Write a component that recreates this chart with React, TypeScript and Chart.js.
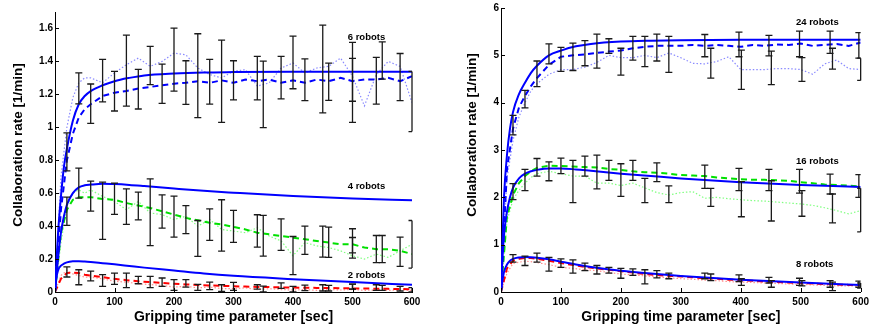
import React, { useEffect, useRef } from "react";
import { Chart, registerables } from "chart.js";
Chart.register(...registerables);

const FONT = "'Liberation Sans', Arial, Helvetica, sans-serif";

// ---------- shared x grids ----------
const X_TICKS = [0, 100, 200, 300, 400, 500, 600];
const MODEL_X = [0, 2, 5, 10, 15, 20, 30, 40, 50, 60, 80, 100, 125, 150, 200, 250, 300, 400, 500, 600];
const SIM_X = [0, 10, 20, 30, 40, 50, 60, 80, 100, 120, 140, 160, 180, 200, 220, 240, 260, 280, 300, 320, 340, 360, 380, 400, 420, 440, 460, 480, 500, 520, 540, 560, 580, 600];

// ---------- left panel (2, 4, 6 robots) ----------
const L_Y_TICKS = [0, 0.2, 0.4, 0.6, 0.8, 1, 1.2, 1.4, 1.6];
const L_MODEL6 = [0, 0.15, 0.35, 0.58, 0.76, 0.87, 1.04, 1.14, 1.19, 1.22, 1.255, 1.28, 1.3, 1.315, 1.327, 1.333, 1.335, 1.337, 1.337, 1.337];
const L_MODEL4 = [0, 0.08, 0.2, 0.36, 0.46, 0.53, 0.6, 0.635, 0.648, 0.652, 0.657, 0.655, 0.65, 0.643, 0.628, 0.614, 0.603, 0.583, 0.568, 0.557];
const L_MODEL2 = [0, 0.08, 0.13, 0.16, 0.172, 0.18, 0.186, 0.187, 0.185, 0.182, 0.175, 0.168, 0.158, 0.148, 0.13, 0.112, 0.098, 0.078, 0.06, 0.044];
const L_SIM6 = [0, 0.5, 0.8, 0.96, 1.06, 1.11, 1.14, 1.19, 1.21, 1.22, 1.235, 1.245, 1.255, 1.265, 1.27, 1.28, 1.27, 1.285, 1.27, 1.29, 1.28, 1.29, 1.27, 1.285, 1.27, 1.29, 1.28, 1.3, 1.28, 1.29, 1.29, 1.3, 1.28, 1.31];
const L_SIM4 = [0, 0.36, 0.5, 0.56, 0.575, 0.575, 0.576, 0.565, 0.56, 0.54, 0.525, 0.51, 0.49, 0.47, 0.45, 0.435, 0.42, 0.41, 0.395, 0.38, 0.36, 0.35, 0.34, 0.33, 0.32, 0.31, 0.3, 0.29, 0.29, 0.27, 0.26, 0.26, 0.25, 0.23];
const L_SIM2 = [0, 0.08, 0.115, 0.118, 0.115, 0.105, 0.1, 0.09, 0.08, 0.072, 0.065, 0.06, 0.055, 0.05, 0.046, 0.042, 0.04, 0.037, 0.035, 0.033, 0.031, 0.03, 0.028, 0.027, 0.026, 0.025, 0.024, 0.023, 0.022, 0.021, 0.02, 0.019, 0.018, 0.017];
const L_DOT6 = [0, 0.7, 1.0, 1.18, 1.27, 1.3, 1.3, 1.27, 1.33, 1.38, 1.42, 1.37, 1.4, 1.45, 1.44, 1.36, 1.32, 1.3, 1.34, 1.35, 1.25, 1.27, 1.36, 1.39, 1.33, 1.36, 1.37, 1.42, 1.31, 1.13, 1.32, 1.4, 1.37, 1.15];
const L_DOT4 = [0, 0.3, 0.52, 0.6, 0.62, 0.6, 0.62, 0.58, 0.55, 0.5, 0.55, 0.48, 0.47, 0.44, 0.46, 0.4, 0.44, 0.38, 0.37, 0.36, 0.39, 0.34, 0.31, 0.22, 0.3, 0.28, 0.27, 0.25, 0.22, 0.2, 0.23, 0.21, 0.25, 0.29];
const L_DOT2 = [0, 0.1, 0.13, 0.11, 0.1, 0.09, 0.09, 0.08, 0.065, 0.06, 0.05, 0.045, 0.04, 0.03, 0.035, 0.025, 0.03, 0.02, 0.02, 0.025, 0.015, 0.02, 0.015, 0.012, 0.015, 0.01, 0.015, 0.012, 0.015, 0.01, 0.012, 0.01, 0.012, 0.01];

const L_ERR_X = [20, 40, 60, 80, 100, 120, 140, 160, 180, 200, 220, 240, 260, 280, 300, 340, 350, 380, 400, 420, 450, 460, 500, 500, 540, 550, 580, 600];
const L_ERR6_HI = [0.966, 1.33, 1.263, 1.412, 1.339, 1.56, 1.352, 1.491, 1.384, 1.602, 1.404, 1.568, 1.412, 1.529, 1.404, 1.43, 1.402, 1.43, 1.554, 1.416, 1.62, 1.39, 1.418, 1.515, 1.424, 1.519, 1.448, 1.339];
const L_ERR6_LO = [0.735, 1.142, 1.024, 1.154, 1.099, 1.129, 1.111, 1.259, 1.145, 1.22, 1.139, 1.059, 1.141, 1.03, 1.166, 1.166, 0.998, 1.172, 1.234, 1.162, 1.087, 1.164, 1.158, 1.03, 1.141, 1.293, 1.162, 0.974];
const L_ERR4_HI = [0.576, 0.752, 0.673, 0.667, 0.661, 0.626, 0.606, 0.687, 0.59, 0.582, 0.525, 0.434, 0.505, 0.56, 0.495, 0.469, 0.465, 0.444, 0.337, 0.4, 0.4, 0.394, 0.331, 0.384, 0.343, 0.343, 0.333, 0.434];
const L_ERR4_LO = [0.404, 0.57, 0.491, 0.319, 0.471, 0.41, 0.438, 0.281, 0.388, 0.333, 0.354, 0.216, 0.313, 0.248, 0.301, 0.273, 0.218, 0.253, 0.105, 0.228, 0.212, 0.21, 0.238, 0.206, 0.178, 0.178, 0.156, 0.145];
const L_ERR2_HI = [0.152, 0.135, 0.127, 0.105, 0.115, 0.115, 0.095, 0.095, 0.085, 0.075, 0.075, 0.046, 0.06, 0.044, 0.059, 0.044, 0.036, 0.055, 0.034, 0.042, 0.044, 0.04, 0.048, 0.048, 0.044, 0.04, 0.034, 0.026];
const L_ERR2_LO = [0.091, 0.044, 0.067, 0.034, 0.046, 0.026, 0.05, 0.026, 0.034, 0.01, 0.03, 0.01, 0.014, 0.004, 0.01, 0.018, 0, 0.022, 0, 0.008, 0.006, 0.006, 0.018, 0.018, 0.01, 0.01, 0.006, 0];

const L_LABELS = ["6 robots", "4 robots", "2 robots"];
const L_LABEL_X = [492, 492, 492];
const L_LABEL_Y = [1.544, 0.642, 0.101];

// ---------- right panel (8, 16, 24 robots) ----------
const R_Y_TICKS = [0, 1, 2, 3, 4, 5, 6];
const R_MODEL24 = [0, 0.9, 2.0, 2.9, 3.45, 3.8, 4.18, 4.42, 4.63, 4.78, 5.0, 5.1, 5.19, 5.24, 5.29, 5.31, 5.32, 5.33, 5.33, 5.33];
const R_MODEL16 = [0, 0.6, 1.2, 1.7, 2.0, 2.2, 2.4, 2.5, 2.55, 2.58, 2.61, 2.61, 2.59, 2.56, 2.5, 2.45, 2.4, 2.32, 2.26, 2.22];
const R_MODEL8 = [0, 0.2, 0.42, 0.58, 0.66, 0.7, 0.73, 0.74, 0.735, 0.725, 0.69, 0.64, 0.58, 0.53, 0.45, 0.39, 0.34, 0.26, 0.2, 0.15];
const R_SIM24 = [0, 2.6, 3.45, 3.9, 4.14, 4.35, 4.52, 4.8, 4.97, 5.0, 5.02, 5.05, 5.08, 5.1, 5.15, 5.18, 5.2, 5.2, 5.2, 5.22, 5.2, 5.22, 5.2, 5.18, 5.22, 5.2, 5.23, 5.22, 5.25, 5.2, 5.22, 5.24, 5.2, 5.27];
const R_SIM16 = [0, 1.6, 2.05, 2.3, 2.45, 2.55, 2.62, 2.67, 2.66, 2.65, 2.64, 2.63, 2.6, 2.58, 2.55, 2.53, 2.52, 2.5, 2.47, 2.46, 2.45, 2.42, 2.4, 2.38, 2.37, 2.37, 2.36, 2.35, 2.32, 2.3, 2.27, 2.26, 2.25, 2.23];
const R_SIM8 = [0, 0.5, 0.66, 0.7, 0.72, 0.72, 0.7, 0.66, 0.61, 0.57, 0.53, 0.5, 0.47, 0.44, 0.41, 0.38, 0.36, 0.34, 0.33, 0.31, 0.29, 0.28, 0.26, 0.25, 0.24, 0.22, 0.21, 0.2, 0.19, 0.18, 0.17, 0.16, 0.15, 0.14];
const R_DOT24 = [0, 2.4, 3.2, 3.7, 4.0, 4.25, 4.4, 4.6, 4.7, 4.7, 4.75, 4.85, 5.0, 4.95, 4.95, 5.0, 4.95, 5.05, 4.95, 4.83, 4.82, 4.87, 4.97, 4.7, 4.7, 4.7, 4.72, 4.72, 4.7, 4.6, 4.82, 4.9, 4.72, 4.7];
const R_DOT16 = [0, 1.5, 1.95, 2.15, 2.3, 2.42, 2.5, 2.55, 2.5, 2.45, 2.45, 2.3, 2.3, 2.25, 2.3, 2.2, 2.1, 2.05, 2.1, 2.12, 1.98, 2.0, 1.97, 1.95, 1.93, 1.92, 1.9, 1.88, 1.86, 1.83, 1.78, 1.72, 1.65, 1.72];
const R_DOT8 = [0, 0.4, 0.6, 0.63, 0.65, 0.64, 0.62, 0.58, 0.52, 0.5, 0.47, 0.45, 0.41, 0.38, 0.36, 0.34, 0.32, 0.3, 0.28, 0.27, 0.25, 0.24, 0.22, 0.21, 0.2, 0.19, 0.18, 0.17, 0.16, 0.15, 0.14, 0.13, 0.13, 0.12];

const R_ERR_X = [20, 40, 60, 80, 100, 120, 140, 160, 180, 200, 220, 240, 260, 280, 340, 350, 397, 401, 447, 451, 498, 502, 549, 553, 597, 600];
const R_ERR24_HI = [3.73, 4.26, 4.88, 5.24, 5.17, 5.26, 5.31, 5.45, 5.35, 5.15, 5.4, 5.4, 5.45, 5.4, 5.44, 5.15, 5.49, 5.11, 5.42, 5.09, 5.51, 4.95, 5.51, 5.15, 5.48, 4.94];
const R_ERR24_LO = [3.32, 3.89, 4.34, 4.82, 4.66, 4.68, 4.78, 4.73, 5.04, 4.58, 4.9, 4.76, 4.88, 4.64, 4.97, 4.52, 4.97, 4.28, 4.99, 4.38, 4.97, 4.45, 5.04, 4.71, 4.94, 4.47];
const R_ERR16_HI = [2.29, 2.59, 2.82, 2.75, 2.83, 2.78, 2.87, 2.89, 2.78, 2.71, 2.78, 2.4, 2.73, 2.24, 2.68, 2.19, 2.61, 2.33, 2.59, 2.35, 2.59, 2.14, 2.49, 2.07, 2.48, 2.19];
const R_ERR16_LO = [1.95, 2.14, 2.45, 2.35, 2.5, 1.89, 2.45, 2.18, 2.36, 2.02, 2.36, 1.89, 2.33, 1.89, 2.19, 1.81, 2.14, 1.59, 2.14, 1.5, 2.09, 1.6, 2.07, 1.46, 2.0, 1.27];
const R_ERR8_HI = [0.79, 0.76, 0.82, 0.73, 0.7, 0.68, 0.61, 0.56, 0.52, 0.5, 0.49, 0.47, 0.45, 0.4, 0.4, 0.38, 0.36, 0.28, 0.31, 0.24, 0.29, 0.24, 0.24, 0.21, 0.23, 0.19];
const R_ERR8_LO = [0.63, 0.56, 0.63, 0.44, 0.52, 0.4, 0.45, 0.38, 0.4, 0.29, 0.35, 0.17, 0.3, 0.28, 0.28, 0.24, 0.22, 0.14, 0.19, 0.1, 0.14, 0.13, 0.1, 0.03, 0.1, 0.08];

const R_LABELS = ["24 robots", "16 robots", "8 robots"];
const R_LABEL_X = [492, 492, 492];
const R_LABEL_Y = [5.69, 2.76, 0.576];

const X_TITLE = "Gripping time parameter [sec]";
const Y_TITLE = "Collaboration rate [1/min]";

// ---------- styles ----------
const BLUE = "#0000ff";
const LBLUE = "#8a8aff";
const GREEN = "#00e000";
const LGREEN = "#80ff80";
const RED = "#ff0000";
const LRED = "#ff9090";

type Curve = { xs: number[]; ys: number[]; color: string; width: number; dash: number[]; order: number; smooth: boolean };
type ErrGroup = { hi: number[]; lo: number[] };
type PanelCfg = {
  left: number; width: number; yMax: number; yTicks: number[];
  padRight: number; padTop: number; yAxisWidth: number;
  yTitleX: number; yTitleY: number;
  curves: Curve[]; errX: number[]; errs: ErrGroup[];
  labels: string[]; labelX: number[]; labelY: number[];
};

const solid = (xs: number[], ys: number[]): Curve => ({ xs, ys, color: BLUE, width: 2, dash: [], order: 0, smooth: true });
const dashed = (xs: number[], ys: number[], color: string): Curve => ({ xs, ys, color, width: 2, dash: [6, 4], order: 1, smooth: false });
const dotted = (xs: number[], ys: number[], color: string): Curve => ({ xs, ys, color, width: 1.2, dash: [1.5, 2], order: 2, smooth: false });

const LEFT: PanelCfg = {
  left: 0, width: 436, yMax: 1.7, yTicks: L_Y_TICKS, padRight: 24, padTop: 12, yAxisWidth: 55,
  yTitleX: 18, yTitleY: 145,
  curves: [
    solid(MODEL_X, L_MODEL6), solid(MODEL_X, L_MODEL4), solid(MODEL_X, L_MODEL2),
    dashed(SIM_X, L_SIM6, BLUE), dashed(SIM_X, L_SIM4, GREEN), dashed(SIM_X, L_SIM2, RED),
    dotted(SIM_X, L_DOT6, LBLUE), dotted(SIM_X, L_DOT4, LGREEN), dotted(SIM_X, L_DOT2, LRED),
  ],
  errX: L_ERR_X,
  errs: [{ hi: L_ERR6_HI, lo: L_ERR6_LO }, { hi: L_ERR4_HI, lo: L_ERR4_LO }, { hi: L_ERR2_HI, lo: L_ERR2_LO }],
  labels: L_LABELS, labelX: L_LABEL_X, labelY: L_LABEL_Y,
};

const RIGHT: PanelCfg = {
  left: 440, width: 433, yMax: 6, yTicks: R_Y_TICKS, padRight: 9, padTop: 6, yAxisWidth: 61,
  yTitleX: 32, yTitleY: 135,
  curves: [
    solid(MODEL_X, R_MODEL24), solid(MODEL_X, R_MODEL16), solid(MODEL_X, R_MODEL8),
    dashed(SIM_X, R_SIM24, BLUE), dashed(SIM_X, R_SIM16, GREEN), dashed(SIM_X, R_SIM8, RED),
    dotted(SIM_X, R_DOT24, LBLUE), dotted(SIM_X, R_DOT16, LGREEN), dotted(SIM_X, R_DOT8, LRED),
  ],
  errX: R_ERR_X,
  errs: [{ hi: R_ERR24_HI, lo: R_ERR24_LO }, { hi: R_ERR16_HI, lo: R_ERR16_LO }, { hi: R_ERR8_HI, lo: R_ERR8_LO }],
  labels: R_LABELS, labelX: R_LABEL_X, labelY: R_LABEL_Y,
};

function Panel({ cfg }: { cfg: PanelCfg }) {
  const ref = useRef<HTMLCanvasElement>(null);
  useEffect(() => {
    const canvas = ref.current!;
    const overlay = {
      id: "overlay",
      afterDatasetsDraw(chart: any) {
        const ctx = chart.ctx as CanvasRenderingContext2D;
        const xs = chart.scales.x;
        const ys = chart.scales.y;
        const area = chart.chartArea;
        ctx.save();
        // error bars
        ctx.strokeStyle = "#1a1a1a";
        ctx.lineWidth = 1.3;
        const cap = 3.5;
        cfg.errs.forEach((g) => {
          cfg.errX.forEach((x, i) => {
            const px = xs.getPixelForValue(x);
            const ph = ys.getPixelForValue(g.hi[i]);
            const pl = ys.getPixelForValue(g.lo[i]);
            ctx.beginPath();
            ctx.moveTo(px, ph); ctx.lineTo(px, pl);
            ctx.moveTo(px - cap, ph); ctx.lineTo(Math.min(px + cap, area.right), ph);
            ctx.moveTo(px - cap, pl); ctx.lineTo(Math.min(px + cap, area.right), pl);
            ctx.stroke();
          });
        });
        // inner tick marks
        ctx.strokeStyle = "#000";
        ctx.lineWidth = 1;
        ctx.beginPath();
        X_TICKS.forEach((v) => {
          const px = Math.round(xs.getPixelForValue(v)) + 0.5;
          ctx.moveTo(px, area.bottom); ctx.lineTo(px, area.bottom - 4);
        });
        cfg.yTicks.forEach((v) => {
          const py = Math.round(ys.getPixelForValue(v)) + 0.5;
          ctx.moveTo(area.left, py); ctx.lineTo(area.left + 4, py);
        });
        ctx.stroke();
        // curve labels
        ctx.fillStyle = "#000";
        ctx.font = `bold 9.5px ${FONT}`;
        ctx.textAlign = "left";
        ctx.textBaseline = "middle";
        cfg.labels.forEach((t, i) => {
          ctx.fillText(t, xs.getPixelForValue(cfg.labelX[i]), ys.getPixelForValue(cfg.labelY[i]));
        });
        // y title
        ctx.translate(cfg.yTitleX, cfg.yTitleY);
        ctx.rotate(-Math.PI / 2);
        ctx.font = `bold 13.5px ${FONT}`;
        ctx.textAlign = "center";
        ctx.textBaseline = "middle";
        ctx.fillText(Y_TITLE, 0, 0);
        ctx.restore();
      },
    };
    const chart = new Chart(canvas, {
      type: "line",
      data: {
        datasets: cfg.curves.map((c) => ({
          data: c.xs.map((x, i) => ({ x, y: c.ys[i] })),
          borderColor: c.color,
          borderWidth: c.width,
          borderDash: c.dash,
          pointRadius: 0,
          fill: false,
          order: c.order,
          tension: c.smooth ? 0.4 : 0,
          cubicInterpolationMode: c.smooth ? "monotone" : "default",
        })),
      },
      options: {
        animation: false,
        responsive: false,
        devicePixelRatio: 1,
        layout: { padding: { left: 0, right: cfg.padRight, top: cfg.padTop, bottom: 0 } },
        plugins: { legend: { display: false }, tooltip: { enabled: false }, title: { display: false } },
        scales: {
          x: {
            type: "linear", min: 0, max: 600,
            afterBuildTicks: (s: any) => { s.ticks = X_TICKS.map((v) => ({ value: v })); },
            ticks: { color: "#000", font: { family: FONT, size: 10, weight: "bold" }, padding: 4, maxRotation: 0, callback: (v: any) => String(v) },
            grid: { display: false, drawTicks: false },
            border: { display: true, color: "#000", width: 1 },
            title: { display: true, text: X_TITLE, color: "#000", font: { family: FONT, size: 14, weight: "bold" }, padding: { top: 0, bottom: 3 } },
            afterFit: (s: any) => { s.height = 37; },
          },
          y: {
            type: "linear", min: 0, max: cfg.yMax,
            afterBuildTicks: (s: any) => { s.ticks = cfg.yTicks.map((v) => ({ value: v })); },
            ticks: { color: "#000", font: { family: FONT, size: 10, weight: "bold" }, padding: 2, callback: (v: any) => String(v) },
            grid: { display: false, drawTicks: false },
            border: { display: true, color: "#000", width: 1 },
            afterFit: (s: any) => { s.width = cfg.yAxisWidth; },
          },
        },
      } as any,
      plugins: [overlay],
    });
    return () => chart.destroy();
  }, []);
  return (
    <canvas
      ref={ref}
      width={cfg.width}
      height={329}
      style={{ position: "absolute", left: cfg.left, top: 0, width: cfg.width, height: 329 }}
    />
  );
}

export default function App() {
  return (
    <div style={{ position: "absolute", left: 0, top: 0, width: 873, height: 329, background: "#fff", overflow: "hidden" }}>
      <Panel cfg={LEFT} />
      <Panel cfg={RIGHT} />
    </div>
  );
}
